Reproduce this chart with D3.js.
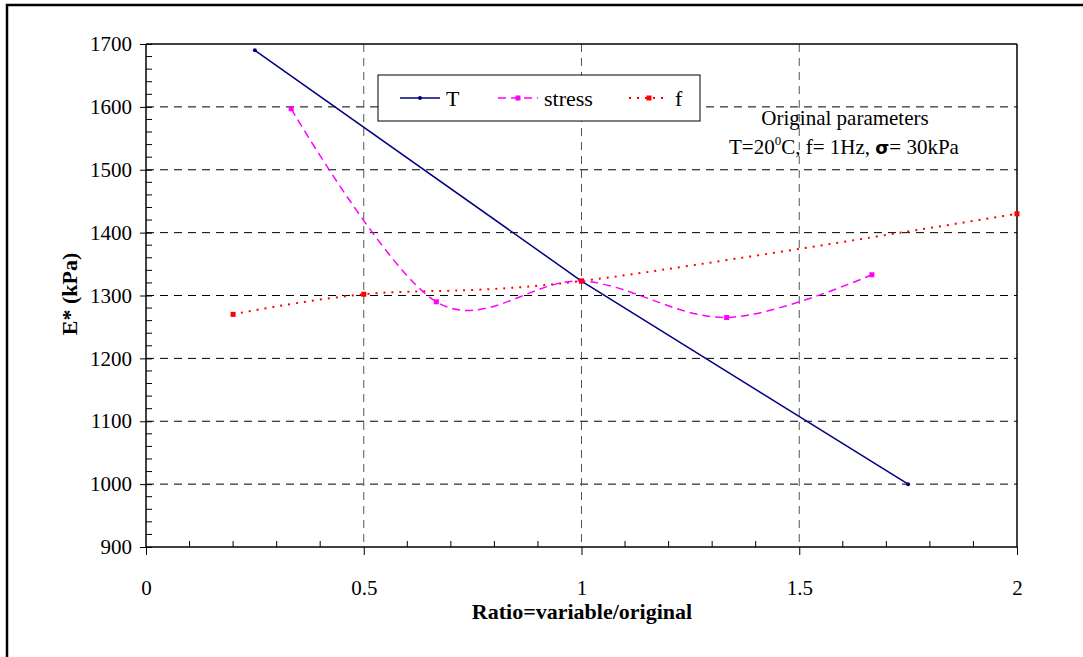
<!DOCTYPE html>
<html><head><meta charset="utf-8">
<script src="https://cdn.jsdelivr.net/npm/d3@7"></script>
<style>body{margin:0;background:#fff}svg{display:block}svg text{font-family:"Liberation Serif",serif !important}</style>
</head><body><svg id="c" width="1083" height="657"></svg>
<script>
const xTicks = [0, 0.5, 1, 1.5, 2];
const yTicks = [900, 1000, 1100, 1200, 1300, 1400, 1500, 1600, 1700];
const tX = [0.25, 1, 1.75];
const tY = [1690, 1323, 1000];
const stressX = [0.3333, 0.6667, 1, 1.3333, 1.6667];
const stressY = [1597, 1290, 1323, 1265, 1333];
const fX = [0.2, 0.5, 1, 2];
const fY = [1270, 1302, 1323, 1430];
const seriesNames = ["T", "stress", "f"];

const svg = d3.select("#c").attr("font-family", "Liberation Serif");
const L = 146, R = 1017, T = 44, B = 547;
const x = d3.scaleLinear().domain([0, 2]).range([L, R]);
const y = d3.scaleLinear().domain([900, 1700]).range([B, T]);

// outer frame
svg.append("rect").attr("x", 7).attr("y", 5).attr("width", 1090).attr("height", 670)
  .attr("fill", "none").attr("stroke", "#000").attr("stroke-width", 2.5);

// grid
const g = svg.append("g");
g.selectAll("line.hg").data(yTicks.filter(d => d > 900 && d < 1700)).join("line")
  .attr("x1", L).attr("x2", R).attr("y1", d => y(d)).attr("y2", d => y(d))
  .attr("stroke", "#000").attr("stroke-width", 1).attr("stroke-dasharray", "8,6");
g.selectAll("line.vg").data(xTicks.filter(d => d > 0 && d < 2)).join("line")
  .attr("x1", d => x(d)).attr("x2", d => x(d)).attr("y1", T).attr("y2", B)
  .attr("stroke", "#555").attr("stroke-width", 1).attr("stroke-dasharray", "8,6");

// plot frame (top and right)
svg.append("line").attr("x1", L).attr("x2", R).attr("y1", T).attr("y2", T).attr("stroke", "#000").attr("stroke-width", 1.5);
svg.append("line").attr("x1", R).attr("x2", R).attr("y1", T).attr("y2", B).attr("stroke", "#000").attr("stroke-width", 1.5);

// axes
const xAxis = d3.axisBottom(x).tickValues(xTicks).tickSize(8).tickFormat(d3.format("~g"));
const yAxis = d3.axisLeft(y).tickValues(yTicks).tickSize(6).tickFormat(d3.format("d"));
const gx = svg.append("g").attr("transform", `translate(0,${B})`).call(xAxis)
  .attr("font-family", null).attr("font-size", null);
gx.select(".domain").attr("stroke-width", 1.5).attr("d", `M${L},0H${R}`);
gx.selectAll(".tick text").attr("font-size", 21).attr("y", 33).attr("dy", "0.71em").attr("fill", "#000");
const gy = svg.append("g").attr("transform", `translate(${L},0)`).call(yAxis)
  .attr("font-family", null).attr("font-size", null);
gy.select(".domain").attr("stroke-width", 1.5).attr("d", `M0,${B}V${T}`);
gy.selectAll(".tick line").attr("x2", -6).attr("x1", 6);
gy.selectAll(".tick text").attr("font-size", 21).attr("x", -14).attr("fill", "#000");

// minor ticks inside
const xMinor = d3.range(0.1, 2, 0.1).filter(v => Math.abs(v * 2 - Math.round(v * 2)) > 1e-6);
svg.append("g").selectAll("line").data(xMinor).join("line")
  .attr("x1", d => x(d)).attr("x2", d => x(d)).attr("y1", B).attr("y2", B - 6).attr("stroke", "#000");
const yMinor = d3.range(920, 1700, 20).filter(v => v % 100 !== 0);
svg.append("g").selectAll("line").data(yMinor).join("line")
  .attr("x1", L).attr("x2", L + 6).attr("y1", d => y(d)).attr("y2", d => y(d)).attr("stroke", "#000");

// series
const curve = d3.curveCatmullRom.alpha(0);
const line = d3.line().x(d => x(d[0])).y(d => y(d[1])).curve(curve);
const tData = tX.map((v, i) => [v, tY[i]]);
const sData = stressX.map((v, i) => [v, stressY[i]]);
const fData = fX.map((v, i) => [v, fY[i]]);

svg.append("path").datum(fData).attr("d", line).attr("fill", "none")
  .attr("stroke", "#ff0000").attr("stroke-width", 2).attr("stroke-dasharray", "2,6");
svg.append("path").datum(sData).attr("d", line).attr("fill", "none")
  .attr("stroke", "#ff00ff").attr("stroke-width", 1.5).attr("stroke-dasharray", "8,5");
svg.append("path").datum(tData).attr("d", d3.line().x(d => x(d[0])).y(d => y(d[1]))).attr("fill", "none")
  .attr("stroke", "#000080").attr("stroke-width", 1.5);

svg.append("g").selectAll("circle").data([tData[0], tData[2]]).join("circle")
  .attr("cx", d => x(d[0])).attr("cy", d => y(d[1])).attr("r", 2).attr("fill", "#000080");
svg.append("g").selectAll("rect").data(sData).join("rect")
  .attr("x", d => x(d[0]) - 2.5).attr("y", d => y(d[1]) - 2.5).attr("width", 5).attr("height", 5).attr("fill", "#ff00ff");
svg.append("g").selectAll("rect").data(fData).join("rect")
  .attr("x", d => x(d[0]) - 2.5).attr("y", d => y(d[1]) - 2.5).attr("width", 5).attr("height", 5).attr("fill", "#ff0000");

// legend
svg.append("rect").attr("x", 378).attr("y", 75).attr("width", 322).attr("height", 46)
  .attr("fill", "#fff").attr("stroke", "#000").attr("stroke-width", 1);
const leg = [
  {n: seriesNames[0], x0: 400, col: "#000080", dash: null, w: 1.5, mk: "c"},
  {n: seriesNames[1], x0: 498, col: "#ff00ff", dash: "8,5", w: 1.5, mk: "r"},
  {n: seriesNames[2], x0: 629, col: "#ff0000", dash: "2,6", w: 2, mk: "r"}
];
leg.forEach(l => {
  svg.append("line").attr("x1", l.x0).attr("x2", l.x0 + 40).attr("y1", 98).attr("y2", 98)
    .attr("stroke", l.col).attr("stroke-width", l.w).attr("stroke-dasharray", l.dash);
  if (l.mk === "c") svg.append("circle").attr("cx", l.x0 + 20).attr("cy", 98).attr("r", 2).attr("fill", l.col);
  else svg.append("rect").attr("x", l.x0 + 17.5).attr("y", 95.5).attr("width", 5).attr("height", 5).attr("fill", l.col);
  svg.append("text").attr("x", l.x0 + 46).attr("y", 106).attr("font-size", 22).text(l.n);
});

// annotation
svg.append("text").attr("x", 845).attr("y", 125).attr("text-anchor", "middle").attr("font-size", 21).text("Original parameters");
const ann = svg.append("text").attr("x", 844).attr("y", 154).attr("text-anchor", "middle").attr("font-size", 21);
ann.append("tspan").text("T=20");
ann.append("tspan").attr("font-size", 13).attr("dy", -9).text("0");
ann.append("tspan").attr("dy", 9).text("C, f= 1Hz, ");
ann.append("tspan").attr("font-weight", "bold").style("font-family", "DejaVu Sans").attr("font-size", 18).text("σ");
ann.append("tspan").text("= 30kPa");

// axis titles
svg.append("text").attr("x", 582).attr("y", 619).attr("text-anchor", "middle").attr("font-size", 22).attr("font-weight", "bold").text("Ratio=variable/original");
svg.append("text").attr("transform", "translate(77,294) rotate(-90)").attr("text-anchor", "middle").attr("font-size", 22).attr("font-weight", "bold").text("E* (kPa)");
</script></body></html>
